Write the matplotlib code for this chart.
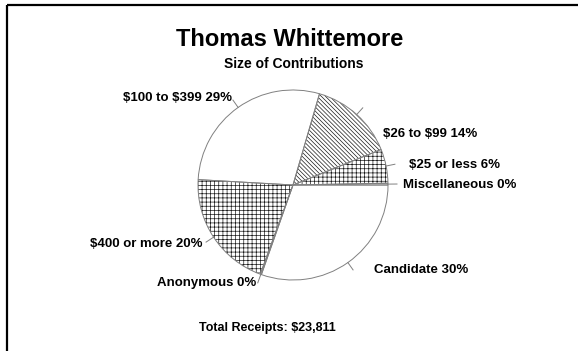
import matplotlib
matplotlib.use("Agg")
import matplotlib.pyplot as plt
import numpy as np
from matplotlib.patches import Wedge

plt.rcParams['font.family'] = ['Liberation Sans', 'DejaVu Sans']
plt.rcParams['hatch.linewidth'] = 0.5

# Contribution breakdown, clockwise from 3 o'clock
categories = ['Candidate', 'Anonymous', '$400 or more', '$100 to $399',
              '$26 to $99', '$25 or less', 'Miscellaneous']
shares = [30.4, 0.2, 20.3, 28.6, 14.4, 5.8, 0.3]
hatches = ['', '', '++++', '', '\\' * 8, '++++', '']

title = 'Thomas Whittemore'
subtitle = 'Size of Contributions'
footer = 'Total Receipts: $23,811'

# label anchor positions in pixel space (x, y from top, alignment)
label_pos = {
    'Candidate': (374, 270, 'left'),
    'Anonymous': (256, 283, 'right'),
    '$400 or more': (203, 244, 'right'),
    '$100 to $399': (232, 98, 'right'),
    '$26 to $99': (383, 134, 'left'),
    '$25 or less': (409, 165, 'left'),
    'Miscellaneous': (403, 185, 'left'),
}

W, H = 578, 351
fig = plt.figure(figsize=(W / 100, H / 100), dpi=100)
ax = fig.add_axes([0, 0, 1, 1])

cx, cy, R = 293, H - 185, 95

wedges, _ = ax.pie(shares, startangle=0, counterclock=False,
                   center=(cx, cy), radius=R, colors=['white'] * len(shares),
                   wedgeprops=dict(linewidth=0, edgecolor='#1a1a1a'))
for w, h in zip(wedges, hatches):
    if h:
        w.set_hatch(h)

# thin grey outlines over the fills
for w in wedges:
    ax.add_patch(Wedge(w.center, w.r, w.theta1, w.theta2, fill=False,
                       edgecolor='#808080', linewidth=0.7, zorder=3))

# leader ticks and labels
for w, cat, s in zip(wedges, categories, shares):
    mid = np.deg2rad((w.theta1 + w.theta2) / 2)
    r0, r1 = R, R + 9
    ax.plot([cx + r0 * np.cos(mid), cx + r1 * np.cos(mid)],
            [cy + r0 * np.sin(mid), cy + r1 * np.sin(mid)],
            color='#808080', linewidth=0.7, zorder=3)
    x, y, ha = label_pos[cat]
    ax.text(x, H - y, f'{cat} {round(s)}%', ha=ha, va='center',
            fontsize=9.5, fontweight='bold', parse_math=False)

ax.text(290, H - 40, title, ha='center', va='center', fontsize=17,
        fontweight='bold')
ax.text(294, H - 64, subtitle, ha='center', va='center', fontsize=10,
        fontweight='bold')
ax.text(267, H - 328, footer, ha='center', va='center', fontsize=9,
        fontweight='bold', parse_math=False)

# frame
ax.plot([7, W], [H - 4.5, H - 4.5], color='black', linewidth=1.6,
        clip_on=False, solid_capstyle='butt')
ax.plot([7, 7], [H - 4.5, 0], color='black', linewidth=1.6,
        clip_on=False, solid_capstyle='butt')

ax.set_xlim(0, W)
ax.set_ylim(0, H)
ax.set_aspect('equal')
ax.axis('off')

fig.savefig('out.png', dpi=100)
